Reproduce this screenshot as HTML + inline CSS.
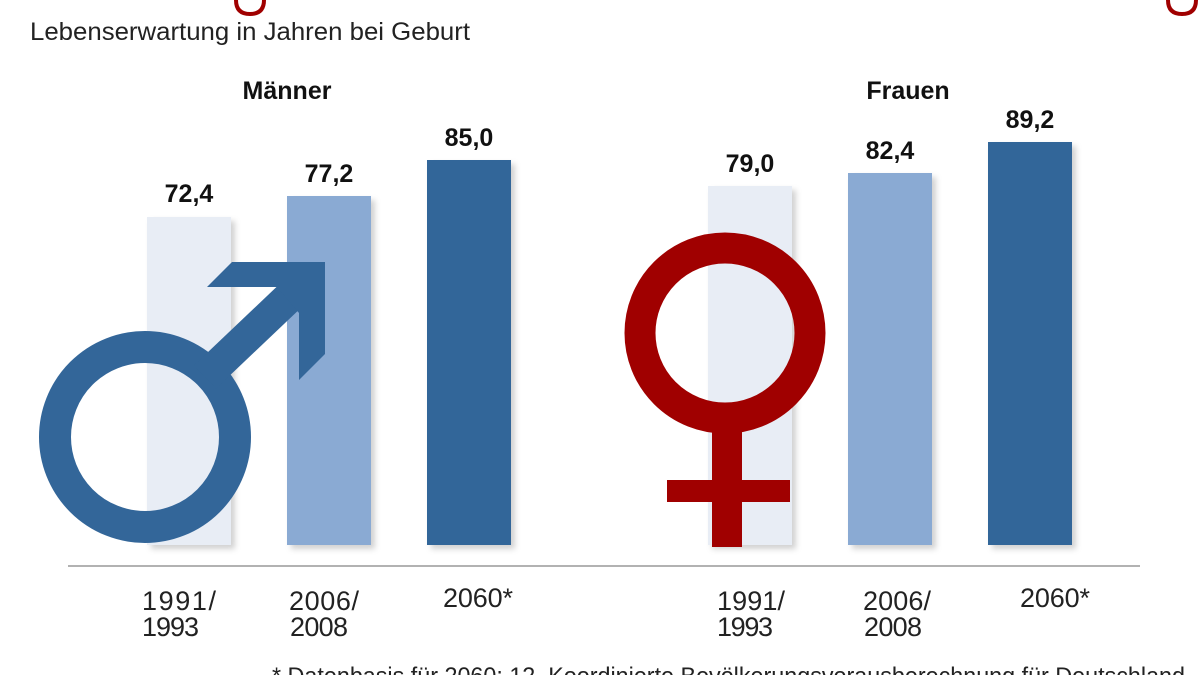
<!DOCTYPE html>
<html><head><meta charset="utf-8"><style>body{margin:0;background:#fff}svg{display:block}</style></head><body>
<svg width="1200" height="675" viewBox="0 0 1200 675" xmlns="http://www.w3.org/2000/svg" font-family="'Liberation Sans Narrow','Liberation Sans',sans-serif">
<defs><filter id="sh" x="-20%" y="-5%" width="150%" height="115%"><feDropShadow dx="4" dy="4" stdDeviation="3" flood-color="#000" flood-opacity="0.18"/></filter></defs>
<path d="M236 0 q0 14 14 14 q14 0 14 -14" fill="none" stroke="#a00000" stroke-width="4"/>
<path d="M1168 0 q0 14 14 14 q14 0 14 -14" fill="none" stroke="#a00000" stroke-width="4"/>
<text x="30" y="40" font-size="25" fill="#222" textLength="440" lengthAdjust="spacingAndGlyphs">Lebenserwartung in Jahren bei Geburt</text>
<g font-weight="bold" font-size="25" fill="#111" text-anchor="middle" font-family="'Liberation Sans',sans-serif">
<text x="287" y="99">Männer</text><text x="908" y="99">Frauen</text>
<text x="189" y="202">72,4</text><text x="329" y="182">77,2</text><text x="469" y="146">85,0</text>
<text x="750" y="172">79,0</text><text x="890" y="159">82,4</text><text x="1030" y="128">89,2</text>
</g>
<g filter="url(#sh)">
<rect x="147" y="217" width="84" height="328" fill="#e8edf5"/>
<rect x="287" y="196" width="84" height="349" fill="#8aaad3"/>
<rect x="427" y="160" width="84" height="385" fill="#336699"/>
<rect x="708" y="186" width="84" height="359" fill="#e8edf5"/>
<rect x="848" y="173" width="84" height="372" fill="#8aaad3"/>
<rect x="988" y="142" width="84" height="403" fill="#336699"/>
</g>
<line x1="68" y1="566" x2="1140" y2="566" stroke="#999" stroke-width="1.5"/>
<g fill="#336699" stroke="none">
<circle cx="145" cy="437" r="90" fill="none" stroke="#336699" stroke-width="32"/>
<line x1="205" y1="377" x2="306" y2="281" stroke="#336699" stroke-width="32"/>
<polygon points="207,287 232,262 325,262 325,354 299,380 299,313 277,287"/>
</g>
<g fill="#a00000">
<circle cx="725" cy="333" r="85" fill="none" stroke="#a00000" stroke-width="31"/>
<rect x="712" y="410" width="30" height="137"/>
<rect x="667" y="480" width="123" height="22"/>
</g>
<g font-size="27" fill="#222" lengthAdjust="spacingAndGlyphs">
<text x="142" y="610" textLength="74">1991/</text><text x="142" y="636" textLength="57">1993</text>
<text x="289" y="610" textLength="70">2006/</text><text x="290" y="636" textLength="58">2008</text>
<text x="443" y="607" textLength="70">2060*</text>
<text x="717" y="610" textLength="68">1991/</text><text x="717" y="636" textLength="56">1993</text>
<text x="863" y="610" textLength="68">2006/</text><text x="864" y="636" textLength="58">2008</text>
<text x="1020" y="607" textLength="70">2060*</text>
</g>
<text x="272" y="684" font-size="24" fill="#222" textLength="913" lengthAdjust="spacingAndGlyphs">* Datenbasis für 2060: 12. Koordinierte Bevölkerungsvorausberechnung für Deutschland</text>
</svg>
</body></html>
